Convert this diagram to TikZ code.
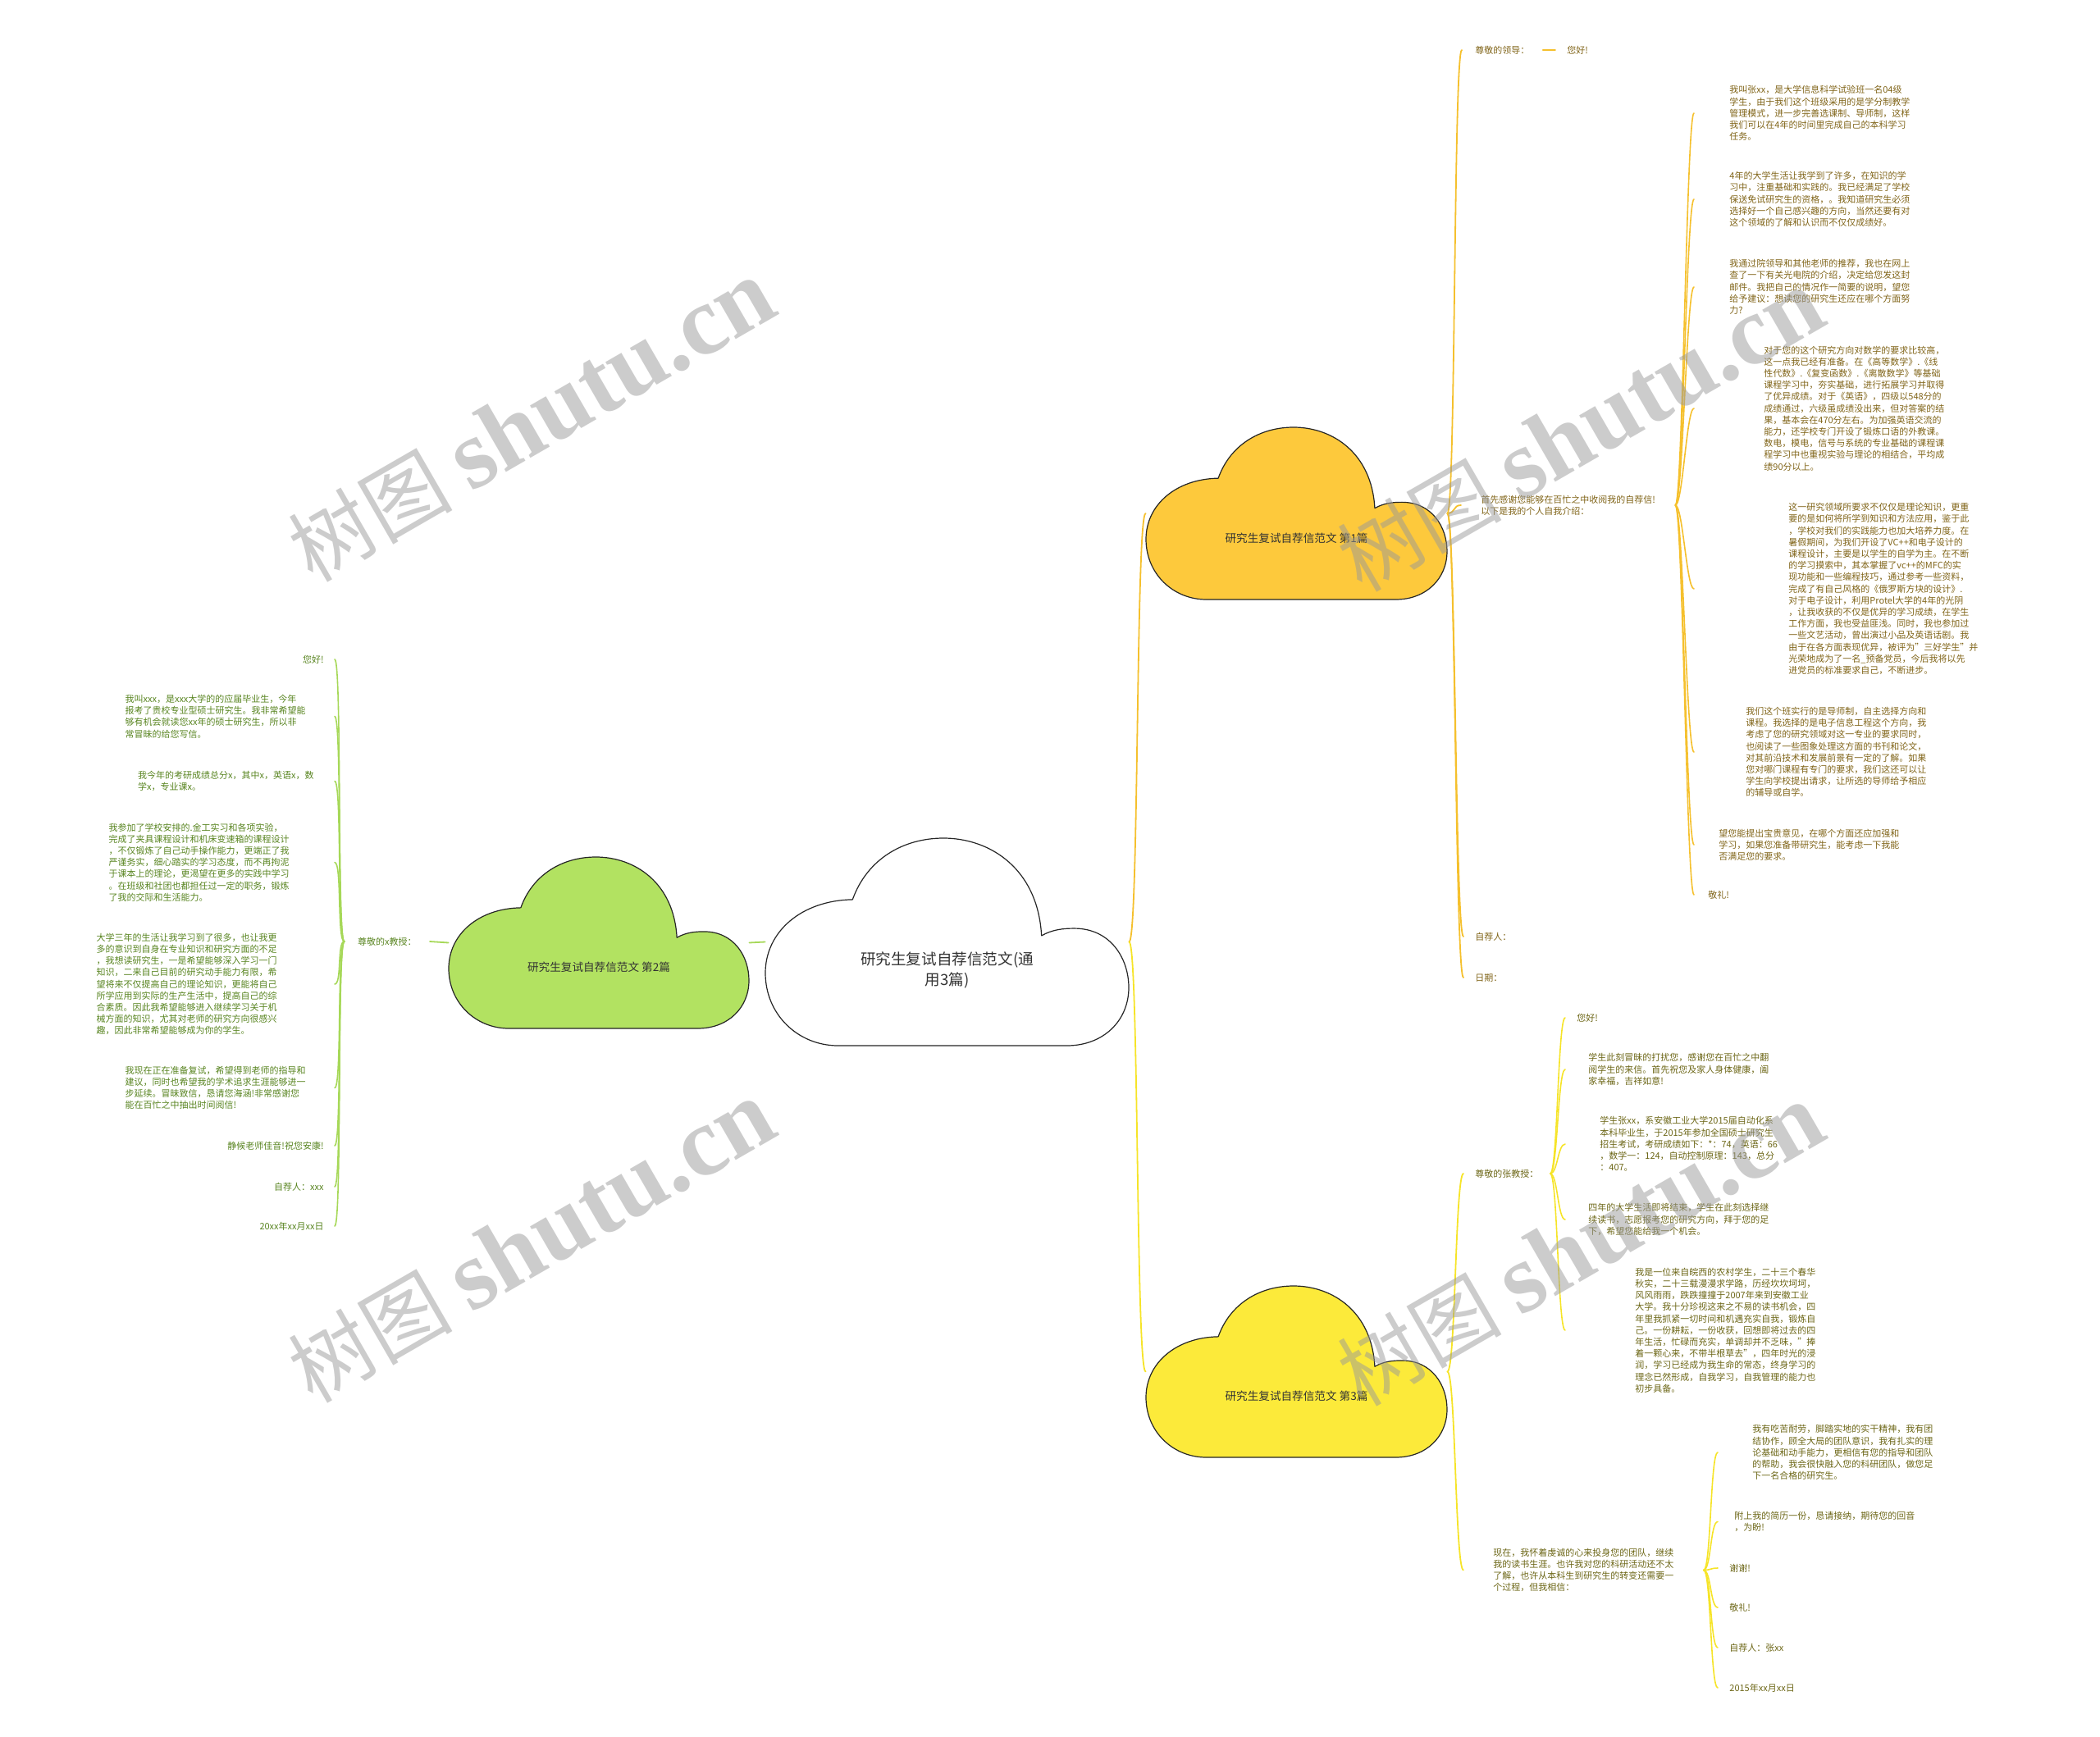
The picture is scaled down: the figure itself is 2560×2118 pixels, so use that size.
\documentclass[tikz,border=0pt]{standalone}
\usepackage{fontspec}
\setmainfont{Noto Sans CJK SC}
\newfontfamily\wmlatin{Liberation Serif}
\definecolor{cloudorg}{RGB}{253,201,60}
\definecolor{cloudylw}{RGB}{252,234,58}
\definecolor{cloudgrn}{RGB}{178,226,97}
\definecolor{lineorg}{RGB}{245,192,45}
\definecolor{lineylw}{RGB}{246,228,40}
\definecolor{linegrn}{RGB}{166,216,88}
\definecolor{txtorg}{RGB}{128,100,24}
\definecolor{txtylw}{RGB}{108,102,22}
\definecolor{txtgrn}{RGB}{88,132,32}

\tikzset{
  pics/puff/.style={code={
    \path[pic actions] (0.20,1) .. controls (0.09,1) and (0,0.85) .. (0,0.65)
      .. controls (0,0.45) and (0.10,0.30) .. (0.24,0.296)
      .. controls (0.28,0.10) and (0.38,0) .. (0.49,0)
      .. controls (0.62,0) and (0.75,0.15) .. (0.76,0.47)
      .. controls (0.79,0.44) and (0.82,0.435) .. (0.85,0.435)
      .. controls (0.95,0.435) and (1,0.58) .. (1,0.72)
      .. controls (1,0.88) and (0.93,1) .. (0.83,1) -- cycle;
  }},
  hub/.style 2 args={rectangle,inner sep=0pt,minimum width=#1,minimum height=#2},
  hubtext/.style={font=\fontsize{6.8}{8.5}\selectfont,text=black!80},
  leaf/.style={font=\fontsize{5.5}{7.1}\selectfont,align=left,inner ysep=0pt},
  leafo/.style={leaf,text=txtorg,anchor=west,inner xsep=#1},
  leafy/.style={leaf,text=txtylw,anchor=west,inner xsep=#1},
  leafg/.style={leaf,text=txtgrn,anchor=east,inner xsep=#1},
  wireo/.style={draw=lineorg,line width=0.9pt},
  wirey/.style={draw=lineylw,line width=0.9pt},
  wireg/.style={draw=linegrn,line width=0.9pt},
  wmtext/.style={rotate=30,text=black!40,text opacity=0.5,font=\fontsize{50}{50}\selectfont}
}

\begin{document}
\begin{tikzpicture}[x=0.5pt,y=-0.5pt,line cap=round,line join=round]
\useasboundingbox (0,0) rectangle (2560,2118);

% clouds
\pic[fill=white,draw=black!85,line width=0.6pt,xscale=443,yscale=253] at (933,1022) {puff};
\node[hub={221.5pt}{126.5pt},label={[hubtext,font=\fontsize{9.3}{12.5}\selectfont,align=center,yshift=-17pt]center:{研究生复试自荐信范文(通\\用3篇)}}] (cc) at (1154.5,1148.5) {};
\pic[fill=cloudorg,draw=black!85,line width=0.6pt,xscale=367,yscale=210] at (1397,521) {puff};
\node[hub={183.5pt}{105pt},label={[hubtext,yshift=-15pt]center:研究生复试自荐信范文 第1篇}] (c1) at (1580.5,626) {};
\pic[fill=cloudgrn,draw=black!85,line width=0.6pt,xscale=366,yscale=209] at (547,1045) {puff};
\node[hub={183pt}{104.5pt},label={[hubtext,yshift=-15pt]center:研究生复试自荐信范文 第2篇}] (c2) at (730,1149.5) {};
\pic[fill=cloudylw,draw=black!85,line width=0.6pt,xscale=367,yscale=209] at (1397,1568) {puff};
\node[hub={183.5pt}{104.5pt},label={[hubtext,yshift=-15pt]center:研究生复试自荐信范文 第3篇}] (c3) at (1580.5,1672.5) {};

% branch 1
\node[leafo=8pt] (lead1) at (1782,61) {尊敬的领导：};
\node[leafo=7pt] (hi1) at (1896,61) {您好!};
\node[leafo=12pt] (first1) at (1781,616) {首先感谢您能够在百忙之中收阅我的自荐信!\\以下是我的个人自我介绍：};
\node[leafo=21.5pt] (p1) at (2065,138) {我叫张xx，是大学信息科学试验班一名04级\\学生，由于我们这个班级采用的是学分制教学\\管理模式，进一步完善选课制、导师制，这样\\我们可以在4年的时间里完成自己的本科学习\\任务。};
\node[leafo=21.5pt] (p2) at (2065,243) {4年的大学生活让我学到了许多，在知识的学\\习中，注重基础和实践的。我已经满足了学校\\保送免试研究生的资格，。我知道研究生必须\\选择好一个自己感兴趣的方向，当然还要有对\\这个领域的了解和认识而不仅仅成绩好。};
\node[leafo=21.5pt] (p3) at (2065,350) {我通过院领导和其他老师的推荐，我也在网上\\查了一下有关光电院的介绍，决定给您发这封\\邮件。我把自己的情况作一简要的说明，望您\\给予建议：想读您的研究生还应在哪个方面努\\力?};
\node[leafo=42.5pt] (p4) at (2065,498) {对于您的这个研究方向对数学的要求比较高，\\这一点我已经有准备。在《高等数学》.《线\\性代数》.《复变函数》.《离散数学》等基础\\课程学习中，夯实基础，进行拓展学习并取得\\了优异成绩。对于《英语》，四级以548分的\\成绩通过，六级虽成绩没出来，但对答案的结\\果，基本会在470分左右。为加强英语交流的\\能力，还学校专门开设了锻炼口语的外教课。\\数电，模电，信号与系统的专业基础的课程课\\程学习中也重视实验与理论的相结合，平均成\\绩90分以上。};
\node[leafo=57.5pt] (p5) at (2065,718) {这一研究领域所要求不仅仅是理论知识，更重\\要的是如何将所学到知识和方法应用，鉴于此\\，学校对我们的实践能力也加大培养力度。在\\暑假期间，为我们开设了VC++和电子设计的\\课程设计，主要是以学生的自学为主。在不断\\的学习摸索中，其本掌握了vc++的MFC的实\\现功能和一些编程技巧，通过参考一些资料，\\完成了有自己风格的《俄罗斯方块的设计》.\\对于电子设计，利用Protel大学的4年的光阴\\，让我收获的不仅是优异的学习成绩，在学生\\工作方面，我也受益匪浅。同时，我也参加过\\一些文艺活动，曾出演过小品及英语话剧。我\\由于在各方面表现优异，被评为"三好学生"并\\光荣地成为了一名\_预备党员，今后我将以先\\进党员的标准要求自己，不断进步。};
\node[leafo=31.5pt] (p6) at (2065,917) {我们这个班实行的是导师制，自主选择方向和\\课程。我选择的是电子信息工程这个方向，我\\考虑了您的研究领域对这一专业的要求同时，\\也阅读了一些图象处理这方面的书刊和论文，\\对其前沿技术和发展前景有一定的了解。如果\\您对哪门课程有专门的要求，我们这还可以让\\学生向学校提出请求，让所选的导师给予相应\\的辅导或自学。};
\node[leafo=15pt] (p7) at (2065,1030) {望您能提出宝贵意见，在哪个方面还应加强和\\学习，如果您准备带研究生，能考虑一下我能\\否满足您的要求。};
\node[leafo=8.5pt] (p8) at (2065,1091) {敬礼!};
\node[leafo=7pt] (sig1) at (1784,1142) {自荐人：};
\node[leafo=7pt] (date1) at (1784,1192) {日期：};

\draw[wireo] (cc.east) .. controls +(12,0) and +(-12,0) .. (c1.west);
\foreach \n in {lead1,first1,sig1,date1}
  \draw[wireo] (c1.east) .. controls +(10,0) and +(-10,0) .. (\n.west);
\draw[wireo] (lead1.east) -- (hi1.west);
\foreach \n in {p1,p2,p3,p4,p5,p6,p7,p8}
  \draw[wireo,line width=0.8pt] (first1.east) .. controls +(9,0) and +(-9,0) .. (\n.west);

% branch 3
\node[leafy=7pt] (lead3) at (1784,1431) {尊敬的张教授：};
\node[leafy=7pt] (q1) at (1908,1241) {您好!};
\node[leafy=14pt] (q2) at (1908,1304) {学生此刻冒昧的打扰您，感谢您在百忙之中翻\\阅学生的来信。首先祝您及家人身体健康，阖\\家幸福，吉祥如意!};
\node[leafy=21pt] (q3) at (1908,1395) {学生张xx，系安徽工业大学2015届自动化系\\本科毕业生，于2015年参加全国硕士研究生\\招生考试，考研成绩如下：*：74，英语：66\\，数学一：124，自动控制原理：143，总分\\：407。};
\node[leafy=14pt] (q4) at (1908,1487) {四年的大学生活即将结束，学生在此刻选择继\\续读书，志愿报考您的研究方向，拜于您的足\\下，希望您能给我一个机会。};
\node[leafy=42.5pt] (q5) at (1908,1622) {我是一位来自皖西的农村学生，二十三个春华\\秋实，二十三载漫漫求学路，历经坎坎坷坷，\\风风雨雨，跌跌撞撞于2007年来到安徽工业\\大学。我十分珍视这来之不易的读书机会，四\\年里我抓紧一切时间和机遇充实自我，锻炼自\\己。一份耕耘，一份收获，回想即将过去的四\\年生活，忙碌而充实，单调却并不乏味，"捧\\着一颗心来，不带半根草去"，四年时光的浸\\润，学习已经成为我生命的常态，终身学习的\\理念已然形成，自我学习，自我管理的能力也\\初步具备。};
\node[leafy=18pt] (now3) at (1784,1914.5) {现在，我怀着虔诚的心来投身您的团队，继续\\我的读书生涯。也许我对您的科研活动还不太\\了解，也许从本科生到研究生的转变还需要一\\个过程，但我相信：};
\node[leafy=21pt] (r1) at (2094,1771) {我有吃苦耐劳，脚踏实地的实干精神，我有团\\结协作，顾全大局的团队意识，我有扎实的理\\论基础和动手能力，更相信有您的指导和团队\\的帮助，我会很快融入您的科研团队，做您足\\下一名合格的研究生。};
\node[leafy=10pt] (r2) at (2094,1855.5) {附上我的简历一份，恳请接纳，期待您的回音\\，为盼!};
\node[leafy=7pt] (r3) at (2094,1912) {谢谢!};
\node[leafy=7pt] (r4) at (2094,1960) {敬礼!};
\node[leafy=7pt] (r5) at (2094,2009) {自荐人：张xx};
\node[leafy=7pt] (r6) at (2094,2058) {2015年xx月xx日};

\draw[wirey] (cc.east) .. controls +(12,0) and +(-12,0) .. (c3.west);
\foreach \n in {lead3,now3}
  \draw[wirey] (c3.east) .. controls +(10,0) and +(-10,0) .. (\n.west);
\foreach \n in {q1,q2,q3,q4,q5}
  \draw[wirey,line width=0.8pt] (lead3.east) .. controls +(9,0) and +(-9,0) .. (\n.west);
\foreach \n in {r1,r2,r3,r4,r5,r6}
  \draw[wirey,line width=0.8pt] (now3.east) .. controls +(9,0) and +(-9,0) .. (\n.west);

% branch 2
\node[leafg=8pt] (lead2) at (524,1148) {尊敬的x教授：};
\node[leafg=6.5pt] (s1) at (408,804) {您好!};
\node[leafg=17.5pt] (s2) at (408,873.5) {我叫xxx，是xxx大学的的应届毕业生，今年\\报考了贵校专业型硕士研究生。我非常希望能\\够有机会就读您xx年的硕士研究生，所以非\\常冒昧的给您写信。};
\node[leafg=12.5pt] (s3) at (408,952.5) {我今年的考研成绩总分x，其中x，英语x，数\\学x，专业课x。};
\node[leafg=27.5pt] (s4) at (408,1051.5) {我参加了学校安排的.金工实习和各项实验，\\完成了夹具课程设计和机床变速箱的课程设计\\，不仅锻炼了自己动手操作能力，更端正了我\\严谨务实，细心踏实的学习态度，而不再拘泥\\于课本上的理论，更渴望在更多的实践中学习\\。在班级和社团也都担任过一定的职务，锻炼\\了我的交际和生活能力。};
\node[leafg=35pt] (s5) at (408,1200) {大学三年的生活让我学习到了很多，也让我更\\多的意识到自身在专业知识和研究方面的不足\\，我想读研究生，一是希望能够深入学习一门\\知识，二来自己目前的研究动手能力有限，希\\望将来不仅提高自己的理论知识，更能将自己\\所学应用到实际的生产生活中，提高自己的综\\合素质。因此我希望能够进入继续学习关于机\\械方面的知识，尤其对老师的研究方向很感兴\\趣，因此非常希望能够成为你的学生。};
\node[leafg=17.5pt] (s6) at (408,1326.5) {我现在正在准备复试，希望得到老师的指导和\\建议，同时也希望我的学术追求生涯能够进一\\步延续。冒昧致信，恳请您海涵!非常感谢您\\能在百忙之中抽出时间阅信!};
\node[leafg=6.5pt] (s7) at (408,1397) {静候老师佳音!祝您安康!};
\node[leafg=6.5pt] (s8) at (408,1447) {自荐人：xxx};
\node[leafg=6.5pt] (s9) at (408,1495) {20xx年xx月xx日};

\draw[wireg] (cc.west) -- (c2.east);
\draw[wireg] (c2.west) -- (lead2.east);
\foreach \n in {s1,s2,s3,s4,s5,s6,s7,s8,s9}
  \draw[wireg,line width=0.8pt] (lead2.west) .. controls +(-9,0) and +(9,0) .. (\n.east);

% watermark
\node[wmtext] (wm1) at (648,514) {树图 {\wmlatin\bfseries\fontsize{60}{60}\selectfont shutu.cn}};
\node[wmtext] (wm2) at (1927,526) {树图 {\wmlatin\bfseries\fontsize{60}{60}\selectfont shutu.cn}};
\node[wmtext] (wm3) at (648,1515) {树图 {\wmlatin\bfseries\fontsize{60}{60}\selectfont shutu.cn}};
\node[wmtext] (wm4) at (1927,1519) {树图 {\wmlatin\bfseries\fontsize{60}{60}\selectfont shutu.cn}};
\end{tikzpicture}
\end{document}
